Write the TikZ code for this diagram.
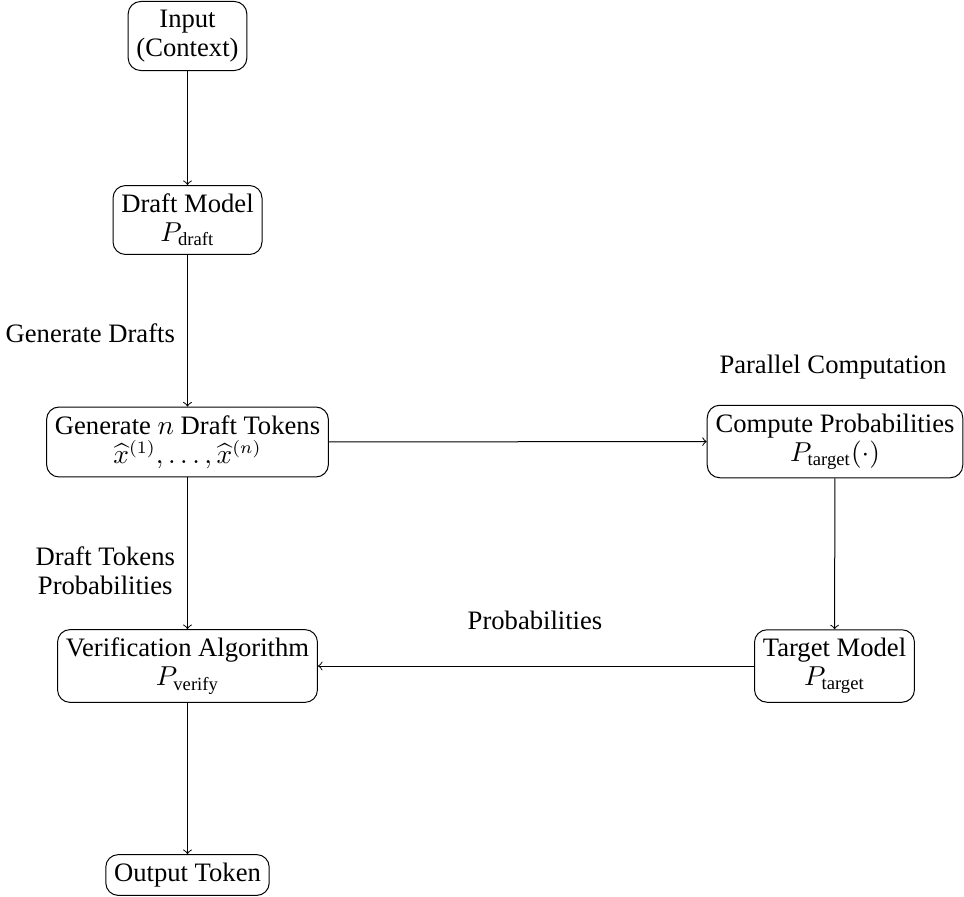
\documentclass[tikz,border=0pt]{standalone}
\usepackage{amsmath}
\usepackage{fontspec}
\setmainfont{Liberation Serif}
\begin{document}
\begin{tikzpicture}[x=1pt,y=1pt,
  every node/.style={font=\fontsize{10.65}{11.7}\selectfont},
  box/.style={draw, rounded corners=5pt, align=center, inner sep=3.33pt, line width=0.4pt},
  lbl/.style={align=center, inner sep=3.33pt},
  conn/.style={->, line width=0.4pt}]
\useasboundingbox (0,0) rectangle (385.6,-358.8);
\node[box] (in) at (75,-14.4) {Input\\(Context)};
\node[box] (draft) at (75,-88) {Draft Model\\$P_{\text{draft}}$};
\node[box] (gen) at (75,-176.8) {Generate $n$ Draft Tokens\\$\widehat{x}^{(1)},\ldots,\widehat{x}^{(n)}$};
\node[box] (comp) at (334,-176.6) {Compute Probabilities\\$P_{\text{target}}(\cdot)$};
\node[box] (target) at (333.8,-266.4) {Target Model\\$P_{\text{target}}$};
\node[box] (verif) at (75,-266.4) {Verification Algorithm\\$P_{\text{verify}}$};
\node[box] (out) at (75,-350) {Output Token};
\node[lbl] (par) at (333.2,-146.8) {Parallel Computation};
\node[lbl] (prob) at (214,-248) {Probabilities};
\node[lbl, anchor=east] (gd) at (73.5,-133.2) {Generate Drafts};
\node[lbl, anchor=east] (dtp) at (73.5,-228.4) {Draft Tokens\\Probabilities};
\draw[conn] (in) -- (draft);
\draw[conn] (draft) -- (gen);
\draw[conn] (gen) -- (comp);
\draw[conn] (comp) -- (target);
\draw[conn] (target) -- (verif);
\draw[conn] (gen) -- (verif);
\draw[conn] (verif) -- (out);
\end{tikzpicture}
\end{document}
